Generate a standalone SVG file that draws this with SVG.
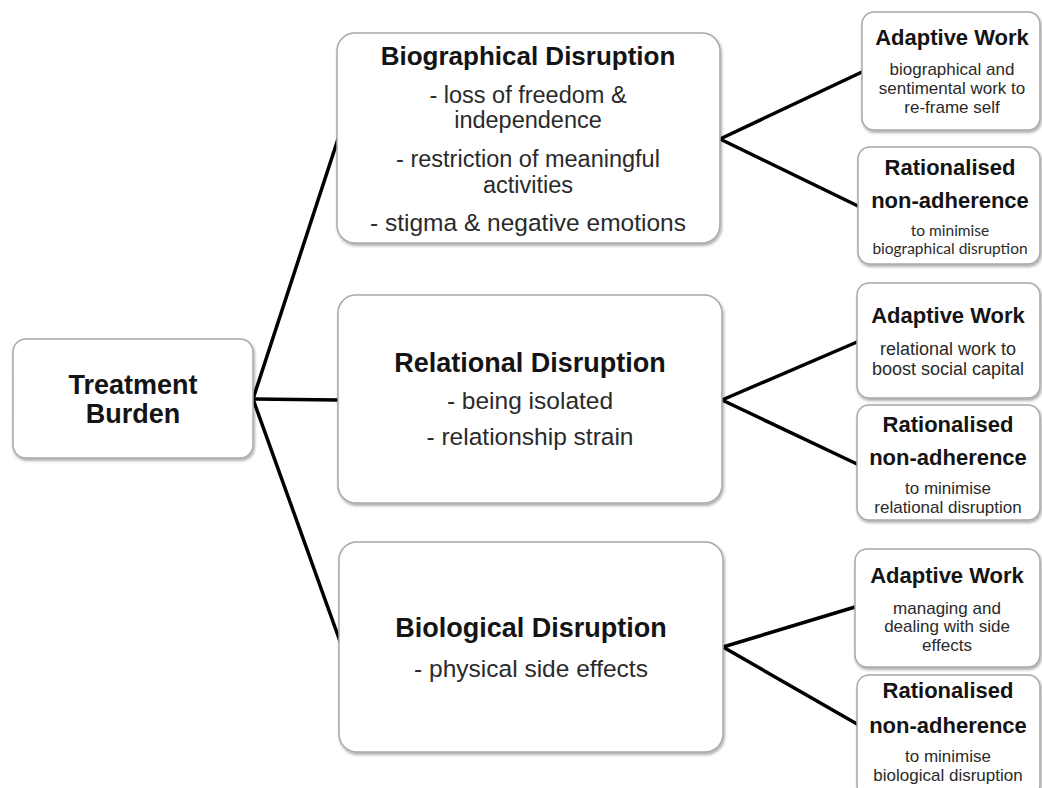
<svg xmlns="http://www.w3.org/2000/svg" width="1042" height="788" viewBox="0 0 1042 788">
<defs>
<filter id="sh" x="-10%" y="-10%" width="120%" height="125%">
<feDropShadow dx="1" dy="2" stdDeviation="1.8" flood-color="#000" flood-opacity="0.35"/>
</filter>
</defs>
<style>
.box{fill:#fff;stroke:#a8a8a8;stroke-width:1.5;filter:url(#sh)}
.t{font-family:"Liberation Sans",Arial,sans-serif;text-anchor:middle}
.h{font-weight:bold;fill:#141414}
.b{fill:#2a2a2a}
.c{font-family:Lato,"Noto Sans",sans-serif;text-anchor:middle;fill:#2a2a2a;font-size:15.5px}
.con{stroke:#000;stroke-width:3.5;fill:none;stroke-linecap:round;stroke-linejoin:round}
</style>
<rect width="1042" height="788" fill="#fff"/>
<g id="connectors">
<polyline class="con" points="338,139 253,399 341,644"/>
<line class="con" x1="253" y1="399" x2="338" y2="400"/>
<polyline class="con" points="862,72 720,139 860,207"/>
<polyline class="con" points="857,342 722,400 857,464"/>
<polyline class="con" points="855,607 723,647 857,724"/>
</g>
<g id="treatment">
<rect class="box" x="13" y="339" width="240" height="119" rx="13"/>
<text class="t h" x="133" y="394" font-size="27">Treatment</text>
<text class="t h" x="133" y="423" font-size="27">Burden</text>
</g>
<g id="biographical">
<rect class="box" x="337" y="33" width="383" height="210" rx="18"/>
<text class="t h" x="528" y="65" font-size="26">Biographical Disruption</text>
<text class="t b" x="528" y="103" font-size="23.5">- loss of freedom &amp;</text>
<text class="t b" x="528" y="128" font-size="23.5">independence</text>
<text class="t b" x="528" y="167" font-size="23.5">- restriction of meaningful</text>
<text class="t b" x="528" y="193" font-size="23.5">activities</text>
<text class="t b" x="528" y="231" font-size="24.5">- stigma &amp; negative emotions</text>
</g>
<g id="relational">
<rect class="box" x="338" y="295" width="384" height="208" rx="18"/>
<text class="t h" x="530" y="372" font-size="27">Relational Disruption</text>
<text class="t b" x="530" y="409" font-size="24.5">- being isolated</text>
<text class="t b" x="530" y="445" font-size="24.5">- relationship strain</text>
</g>
<g id="biological">
<rect class="box" x="339" y="542" width="384" height="210" rx="18"/>
<text class="t h" x="531" y="637" font-size="27">Biological Disruption</text>
<text class="t b" x="531" y="677" font-size="24.5">- physical side effects</text>
</g>
<g id="adaptive1">
<rect class="box" x="862" y="12" width="178" height="118" rx="12"/>
<text class="t h" x="952" y="45" font-size="22">Adaptive  Work</text>
<text class="t b" x="952" y="75" font-size="17">biographical  and</text>
<text class="t b" x="952" y="94" font-size="17">sentimental work to</text>
<text class="t b" x="952" y="113" font-size="17">re-frame self</text>
</g>
<g id="rational1">
<rect class="box" x="858" y="147" width="182" height="117" rx="12"/>
<text class="t h" x="950" y="175" font-size="22">Rationalised</text>
<text class="t h" x="950" y="208" font-size="22">non-adherence</text>
<text class="c" x="950" y="236">to minimise</text>
<text class="c" x="950" y="254">biographical disruption</text>
</g>
<g id="adaptive2">
<rect class="box" x="857" y="283" width="183" height="115" rx="12"/>
<text class="t h" x="948" y="323" font-size="22">Adaptive Work</text>
<text class="t b" x="948" y="355" font-size="18">relational work to</text>
<text class="t b" x="948" y="375" font-size="18">boost social capital</text>
</g>
<g id="rational2">
<rect class="box" x="857" y="405" width="183" height="115" rx="12"/>
<text class="t h" x="948" y="432" font-size="22">Rationalised</text>
<text class="t h" x="948" y="465" font-size="22">non-adherence</text>
<text class="t b" x="948" y="494" font-size="17">to minimise</text>
<text class="t b" x="948" y="513" font-size="17">relational disruption</text>
</g>
<g id="adaptive3">
<rect class="box" x="855" y="549" width="185" height="118" rx="12"/>
<text class="t h" x="947" y="583" font-size="22">Adaptive Work</text>
<text class="t b" x="947" y="614" font-size="17">managing and</text>
<text class="t b" x="947" y="632" font-size="17">dealing with side</text>
<text class="t b" x="947" y="651" font-size="17">effects</text>
</g>
<g id="rational3">
<rect class="box" x="857" y="675" width="183" height="122" rx="12"/>
<text class="t h" x="948" y="698" font-size="22">Rationalised</text>
<text class="t h" x="948" y="733" font-size="22">non-adherence</text>
<text class="t b" x="948" y="762" font-size="17">to minimise</text>
<text class="t b" x="948" y="781" font-size="17">biological  disruption</text>
</g>
</svg>
